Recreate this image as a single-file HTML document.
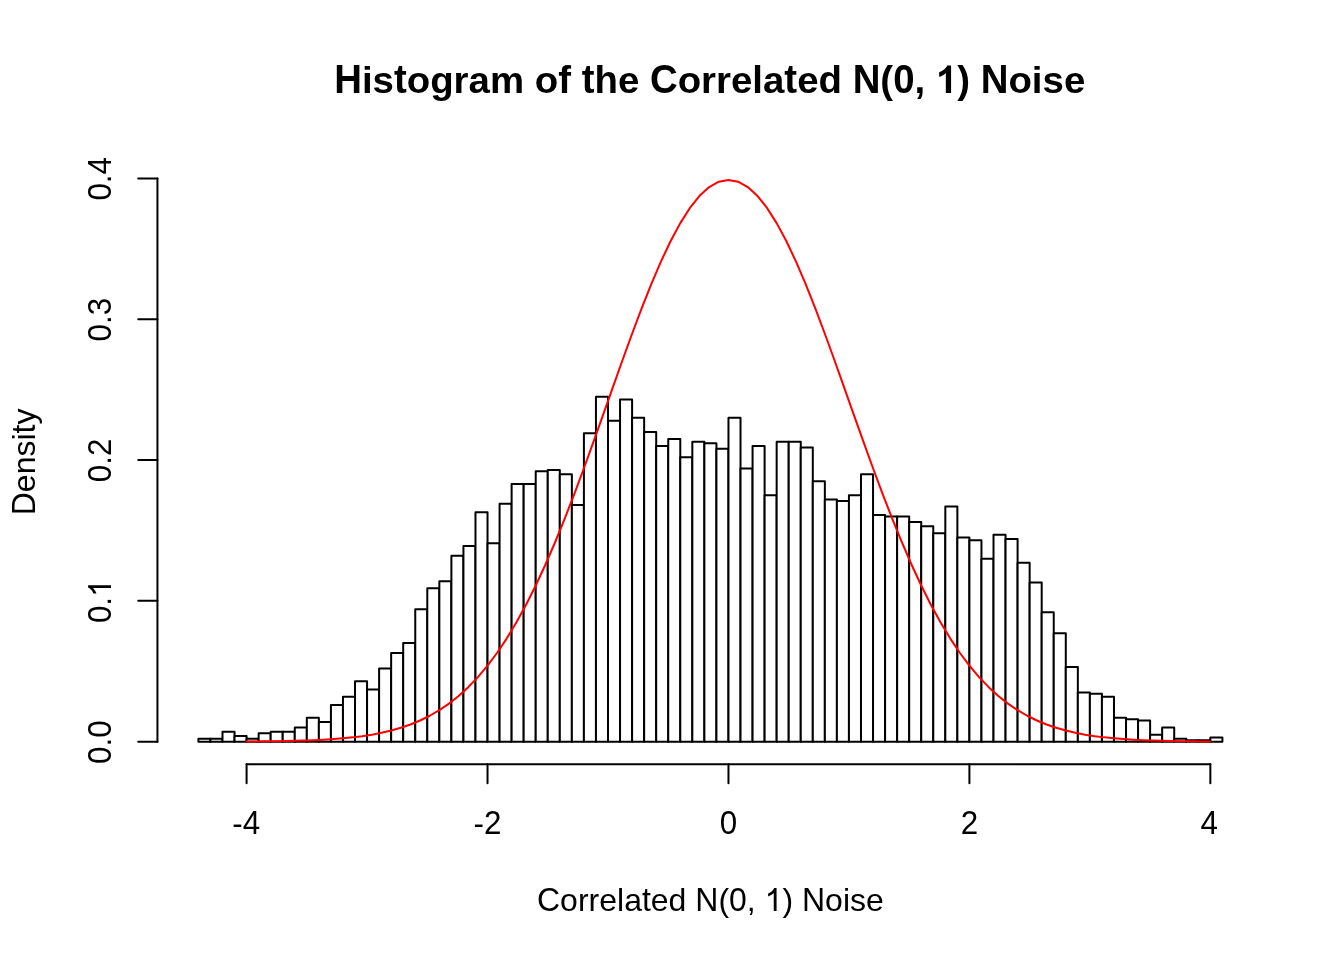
<!DOCTYPE html>
<html><head><meta charset="utf-8"><title>Histogram</title>
<style>html,body{margin:0;padding:0;background:#fff;}body{width:1344px;height:960px;overflow:hidden;font-family:"Liberation Sans",sans-serif;}svg{display:block;will-change:transform;}</style>
</head><body>
<svg width="1344" height="960" viewBox="0 0 1344 960">
<rect width="1344" height="960" fill="#fff"/>
<g fill="#fff" stroke="#000" stroke-width="2" stroke-linejoin="round" stroke-linecap="round"><rect x="198.40" y="738.87" width="12.05" height="2.82"/><rect x="210.45" y="738.87" width="12.05" height="2.82"/><rect x="222.49" y="731.83" width="12.05" height="9.86"/><rect x="234.54" y="736.06" width="12.05" height="5.63"/><rect x="246.59" y="738.87" width="12.05" height="2.82"/><rect x="258.64" y="733.24" width="12.05" height="8.45"/><rect x="270.68" y="731.83" width="12.05" height="9.86"/><rect x="282.73" y="731.83" width="12.05" height="9.86"/><rect x="294.78" y="727.61" width="12.05" height="14.08"/><rect x="306.82" y="717.75" width="12.05" height="23.94"/><rect x="318.87" y="721.97" width="12.05" height="19.71"/><rect x="330.92" y="705.08" width="12.05" height="36.61"/><rect x="342.96" y="696.63" width="12.05" height="45.06"/><rect x="355.01" y="681.14" width="12.05" height="60.55"/><rect x="367.06" y="689.59" width="12.05" height="52.10"/><rect x="379.11" y="668.46" width="12.05" height="73.22"/><rect x="391.15" y="652.97" width="12.05" height="88.71"/><rect x="403.20" y="643.12" width="12.05" height="98.57"/><rect x="415.25" y="609.32" width="12.05" height="132.37"/><rect x="427.29" y="588.20" width="12.05" height="153.49"/><rect x="439.34" y="581.16" width="12.05" height="160.53"/><rect x="451.39" y="555.81" width="12.05" height="185.88"/><rect x="463.44" y="545.95" width="12.05" height="195.74"/><rect x="475.48" y="512.16" width="12.05" height="229.53"/><rect x="487.53" y="543.14" width="12.05" height="198.55"/><rect x="499.58" y="503.71" width="12.05" height="237.98"/><rect x="511.62" y="483.99" width="12.05" height="257.69"/><rect x="523.67" y="483.99" width="12.05" height="257.69"/><rect x="535.72" y="471.32" width="12.05" height="270.37"/><rect x="547.76" y="469.91" width="12.05" height="271.78"/><rect x="559.81" y="474.14" width="12.05" height="267.55"/><rect x="571.86" y="505.12" width="12.05" height="236.57"/><rect x="583.91" y="433.30" width="12.05" height="308.39"/><rect x="595.95" y="396.69" width="12.05" height="345.00"/><rect x="608.00" y="420.63" width="12.05" height="321.06"/><rect x="620.05" y="399.50" width="12.05" height="342.18"/><rect x="632.09" y="417.81" width="12.05" height="323.88"/><rect x="644.14" y="431.89" width="12.05" height="309.80"/><rect x="656.19" y="445.97" width="12.05" height="295.72"/><rect x="668.24" y="438.93" width="12.05" height="302.76"/><rect x="680.28" y="457.24" width="12.05" height="284.45"/><rect x="692.33" y="441.75" width="12.05" height="299.94"/><rect x="704.38" y="443.16" width="12.05" height="298.53"/><rect x="716.42" y="448.79" width="12.05" height="292.90"/><rect x="728.47" y="417.81" width="12.05" height="323.88"/><rect x="740.52" y="468.50" width="12.05" height="273.18"/><rect x="752.56" y="445.97" width="12.05" height="295.72"/><rect x="764.61" y="495.26" width="12.05" height="246.43"/><rect x="776.66" y="441.75" width="12.05" height="299.94"/><rect x="788.71" y="441.75" width="12.05" height="299.94"/><rect x="800.75" y="447.38" width="12.05" height="294.31"/><rect x="812.80" y="481.18" width="12.05" height="260.51"/><rect x="824.85" y="499.48" width="12.05" height="242.20"/><rect x="836.89" y="500.89" width="12.05" height="240.80"/><rect x="848.94" y="495.26" width="12.05" height="246.43"/><rect x="860.99" y="474.14" width="12.05" height="267.55"/><rect x="873.04" y="514.97" width="12.05" height="226.72"/><rect x="885.08" y="516.38" width="12.05" height="225.31"/><rect x="897.13" y="516.38" width="12.05" height="225.31"/><rect x="909.18" y="522.01" width="12.05" height="219.67"/><rect x="921.22" y="526.24" width="12.05" height="215.45"/><rect x="933.27" y="533.28" width="12.05" height="208.41"/><rect x="945.32" y="506.52" width="12.05" height="235.16"/><rect x="957.36" y="537.50" width="12.05" height="204.18"/><rect x="969.41" y="540.32" width="12.05" height="201.37"/><rect x="981.46" y="558.63" width="12.05" height="183.06"/><rect x="993.51" y="534.69" width="12.05" height="207.00"/><rect x="1005.55" y="538.91" width="12.05" height="202.78"/><rect x="1017.60" y="562.85" width="12.05" height="178.84"/><rect x="1029.65" y="582.57" width="12.05" height="159.12"/><rect x="1041.69" y="612.14" width="12.05" height="129.55"/><rect x="1053.74" y="633.26" width="12.05" height="108.43"/><rect x="1065.79" y="667.06" width="12.05" height="74.63"/><rect x="1077.84" y="692.40" width="12.05" height="49.29"/><rect x="1089.88" y="693.81" width="12.05" height="47.88"/><rect x="1101.93" y="696.63" width="12.05" height="45.06"/><rect x="1113.98" y="717.75" width="12.05" height="23.94"/><rect x="1126.02" y="719.16" width="12.05" height="22.53"/><rect x="1138.07" y="720.57" width="12.05" height="21.12"/><rect x="1150.12" y="734.65" width="12.05" height="7.04"/><rect x="1162.16" y="727.61" width="12.05" height="14.08"/><rect x="1174.21" y="738.87" width="12.05" height="2.82"/><rect x="1186.26" y="740.28" width="12.05" height="1.41"/><rect x="1198.31" y="740.28" width="12.05" height="1.41"/><rect x="1210.35" y="737.46" width="12.05" height="4.22"/></g>
<polyline points="246.59,741.50 256.23,741.43 265.86,741.34 275.50,741.21 285.14,741.04 294.78,740.83 304.41,740.54 314.05,740.18 323.69,739.70 333.33,739.10 342.96,738.33 352.60,737.37 362.24,736.16 371.88,734.66 381.52,732.81 391.15,730.54 400.79,727.79 410.43,724.46 420.07,720.48 429.70,715.75 439.34,710.15 448.98,703.60 458.62,695.98 468.25,687.18 477.89,677.11 487.53,665.66 497.17,652.75 506.80,638.32 516.44,622.31 526.08,604.70 535.72,585.49 545.36,564.73 554.99,542.49 564.63,518.88 574.27,494.07 583.91,468.24 593.54,441.65 603.18,414.58 612.82,387.33 622.46,360.27 632.09,333.75 641.73,308.18 651.37,283.95 661.01,261.44 670.64,241.04 680.28,223.10 689.92,207.95 699.56,195.86 709.20,187.06 718.83,181.71 728.47,179.91 738.11,181.71 747.75,187.06 757.38,195.86 767.02,207.95 776.66,223.10 786.30,241.04 795.93,261.44 805.57,283.95 815.21,308.18 824.85,333.75 834.48,360.27 844.12,387.33 853.76,414.58 863.40,441.65 873.04,468.24 882.67,494.07 892.31,518.88 901.95,542.49 911.59,564.73 921.22,585.49 930.86,604.70 940.50,622.31 950.14,638.32 959.77,652.75 969.41,665.66 979.05,677.11 988.69,687.18 998.32,695.98 1007.96,703.60 1017.60,710.15 1027.24,715.75 1036.88,720.48 1046.51,724.46 1056.15,727.79 1065.79,730.54 1075.43,732.81 1085.06,734.66 1094.70,736.16 1104.34,737.37 1113.98,738.33 1123.61,739.10 1133.25,739.70 1142.89,740.18 1152.53,740.54 1162.16,740.83 1171.80,741.04 1181.44,741.21 1191.08,741.34 1200.72,741.43 1210.35,741.50" fill="none" stroke="#f00" stroke-width="2" stroke-linejoin="round" stroke-linecap="round"/>
<g stroke="#000" stroke-width="2" stroke-linecap="round"><line x1="157.44" y1="741.69" x2="157.44" y2="178.42"/><line x1="157.44" y1="741.69" x2="138.24" y2="741.69"/><line x1="157.44" y1="600.87" x2="138.24" y2="600.87"/><line x1="157.44" y1="460.06" x2="138.24" y2="460.06"/><line x1="157.44" y1="319.24" x2="138.24" y2="319.24"/><line x1="157.44" y1="178.42" x2="138.24" y2="178.42"/><line x1="246.59" y1="764.16" x2="1210.35" y2="764.16"/><line x1="246.59" y1="764.16" x2="246.59" y2="783.36"/><line x1="487.53" y1="764.16" x2="487.53" y2="783.36"/><line x1="728.47" y1="764.16" x2="728.47" y2="783.36"/><line x1="969.41" y1="764.16" x2="969.41" y2="783.36"/><line x1="1210.35" y1="764.16" x2="1210.35" y2="783.36"/></g>
<g font-family="Liberation Sans, sans-serif" font-size="32" fill="#000">
<text transform="translate(111.00,742.09) rotate(-90) scale(0.98,1) translate(-22.242,0) scale(1,1.0405)">0</text><text transform="translate(111.00,742.09) rotate(-90) scale(0.98,1) translate(-4.445,0) scale(1,1.0000)">.</text><text transform="translate(111.00,742.09) rotate(-90) scale(0.98,1) translate(4.445,0) scale(1,1.0405)">0</text>
<text transform="translate(111.00,601.27) rotate(-90) scale(0.98,1) translate(-22.242,0) scale(1,1.0405)">0</text><text transform="translate(111.00,601.27) rotate(-90) scale(0.98,1) translate(-4.445,0) scale(1,1.0000)">.</text><path transform="translate(111.00,601.27) rotate(-90) scale(0.98,1) translate(4.445,0) scale(0.015625,-0.015625)" d="M763 0L583 0L583 1147Q518 1085 414.5 1024Q311 963 223 930L223 1125Q374 1190 465 1266Q556 1342 611 1466L763 1466Z"/>
<text transform="translate(111.00,460.46) rotate(-90) scale(0.98,1) translate(-22.242,0) scale(1,1.0405)">0</text><text transform="translate(111.00,460.46) rotate(-90) scale(0.98,1) translate(-4.445,0) scale(1,1.0000)">.</text><text transform="translate(111.00,460.46) rotate(-90) scale(0.98,1) translate(4.445,0) scale(1,1.0405)">2</text>
<text transform="translate(111.00,319.64) rotate(-90) scale(0.98,1) translate(-22.242,0) scale(1,1.0405)">0</text><text transform="translate(111.00,319.64) rotate(-90) scale(0.98,1) translate(-4.445,0) scale(1,1.0000)">.</text><text transform="translate(111.00,319.64) rotate(-90) scale(0.98,1) translate(4.445,0) scale(1,1.0405)">3</text>
<text transform="translate(111.00,178.82) rotate(-90) scale(0.98,1) translate(-22.242,0) scale(1,1.0405)">0</text><text transform="translate(111.00,178.82) rotate(-90) scale(0.98,1) translate(-4.445,0) scale(1,1.0000)">.</text><text transform="translate(111.00,178.82) rotate(-90) scale(0.98,1) translate(4.445,0) scale(1,1.0405)">4</text>
<text transform="translate(246.29,834.00) scale(0.98,1) translate(-14.227,0) scale(1,1.0000)">-</text><text transform="translate(246.29,834.00) scale(0.98,1) translate(-3.570,0) scale(1,1.0405)">4</text>
<text transform="translate(487.53,834.00) scale(0.98,1) translate(-14.227,0) scale(1,1.0000)">-</text><text transform="translate(487.53,834.00) scale(0.98,1) translate(-3.570,0) scale(1,1.0405)">2</text>
<text transform="translate(728.47,834.00) scale(0.98,1) translate(-8.898,0) scale(1,1.0405)">0</text>
<text transform="translate(969.41,834.00) scale(0.98,1) translate(-8.898,0) scale(1,1.0405)">2</text>
<text transform="translate(1209.15,834.00) scale(0.98,1) translate(-8.898,0) scale(1,1.0405)">4</text>
<text transform="translate(710.40,911.00) translate(-173.398,0) scale(1,1.0405)">C</text><text transform="translate(710.40,911.00) translate(-150.289,0) scale(1,0.9815)">o</text><text transform="translate(710.40,911.00) translate(-132.492,0) scale(1,0.9815)">r</text><text transform="translate(710.40,911.00) translate(-121.836,0) scale(1,0.9815)">r</text><text transform="translate(710.40,911.00) translate(-111.180,0) scale(1,0.9815)">e</text><text transform="translate(710.40,911.00) translate(-93.383,0) scale(1,0.9879)">l</text><text transform="translate(710.40,911.00) translate(-86.273,0) scale(1,0.9815)">a</text><text transform="translate(710.40,911.00) translate(-68.477,0) scale(1,1.0650)">t</text><text transform="translate(710.40,911.00) translate(-59.586,0) scale(1,0.9815)">e</text><text transform="translate(710.40,911.00) translate(-41.789,0) scale(1,0.9879)">d</text><text transform="translate(710.40,911.00) translate(-15.102,0) scale(1,1.0405)">N</text><text transform="translate(710.40,911.00) translate(8.008,0) scale(1,0.9900)">(</text><text transform="translate(710.40,911.00) translate(18.664,0) scale(1,1.0405)">0</text><text transform="translate(710.40,911.00) translate(36.461,0) scale(1,1.0000)">,</text><path transform="translate(710.40,911.00) translate(54.242,0) scale(0.015625,-0.015625)" d="M763 0L583 0L583 1147Q518 1085 414.5 1024Q311 963 223 930L223 1125Q374 1190 465 1266Q556 1342 611 1466L763 1466Z"/><text transform="translate(710.40,911.00) translate(72.039,0) scale(1,0.9900)">)</text><text transform="translate(710.40,911.00) translate(91.586,0) scale(1,1.0405)">N</text><text transform="translate(710.40,911.00) translate(114.695,0) scale(1,0.9815)">o</text><text transform="translate(710.40,911.00) translate(132.492,0) scale(1,0.9850)">i</text><text transform="translate(710.40,911.00) translate(139.602,0) scale(1,0.9815)">s</text><text transform="translate(710.40,911.00) translate(155.602,0) scale(1,0.9815)">e</text>
<text transform="translate(34.50,461.90) rotate(-90) translate(-53.352,0) scale(1,1.0405)">D</text><text transform="translate(34.50,461.90) rotate(-90) translate(-30.242,0) scale(1,0.9815)">e</text><text transform="translate(34.50,461.90) rotate(-90) translate(-12.445,0) scale(1,0.9815)">n</text><text transform="translate(34.50,461.90) rotate(-90) translate(5.352,0) scale(1,0.9815)">s</text><text transform="translate(34.50,461.90) rotate(-90) translate(21.352,0) scale(1,0.9850)">i</text><text transform="translate(34.50,461.90) rotate(-90) translate(28.461,0) scale(1,1.0650)">t</text><text transform="translate(34.50,461.90) rotate(-90) translate(37.352,0) scale(1,0.9815)">y</text>
</g>
<g font-family="Liberation Sans, sans-serif" font-size="38.4" font-weight="bold" fill="#000">
<text transform="translate(709.70,92.90) translate(-375.534,0) scale(1,1.0405)">H</text><text transform="translate(709.70,92.90) translate(-347.803,0) scale(1,0.9850)">i</text><text transform="translate(709.70,92.90) translate(-337.134,0) scale(1,0.9815)">s</text><text transform="translate(709.70,92.90) translate(-315.778,0) scale(1,1.0650)">t</text><text transform="translate(709.70,92.90) translate(-302.991,0) scale(1,0.9815)">o</text><text transform="translate(709.70,92.90) translate(-279.534,0) scale(1,0.9815)">g</text><text transform="translate(709.70,92.90) translate(-256.078,0) scale(1,0.9815)">r</text><text transform="translate(709.70,92.90) translate(-241.134,0) scale(1,0.9815)">a</text><text transform="translate(709.70,92.90) translate(-219.778,0) scale(1,0.9815)">m</text><text transform="translate(709.70,92.90) translate(-174.966,0) scale(1,0.9815)">o</text><text transform="translate(709.70,92.90) translate(-151.509,0) scale(1,0.9879)">f</text><text transform="translate(709.70,92.90) translate(-128.053,0) scale(1,1.0650)">t</text><text transform="translate(709.70,92.90) translate(-115.266,0) scale(1,0.9879)">h</text><text transform="translate(709.70,92.90) translate(-91.809,0) scale(1,0.9815)">e</text><text transform="translate(709.70,92.90) translate(-59.784,0) scale(1,1.0405)">C</text><text transform="translate(709.70,92.90) translate(-32.053,0) scale(1,0.9815)">o</text><text transform="translate(709.70,92.90) translate(-8.597,0) scale(1,0.9815)">r</text><text transform="translate(709.70,92.90) translate(6.347,0) scale(1,0.9815)">r</text><text transform="translate(709.70,92.90) translate(21.291,0) scale(1,0.9815)">e</text><text transform="translate(709.70,92.90) translate(42.647,0) scale(1,0.9879)">l</text><text transform="translate(709.70,92.90) translate(53.316,0) scale(1,0.9815)">a</text><text transform="translate(709.70,92.90) translate(74.672,0) scale(1,1.0650)">t</text><text transform="translate(709.70,92.90) translate(87.459,0) scale(1,0.9815)">e</text><text transform="translate(709.70,92.90) translate(108.816,0) scale(1,0.9879)">d</text><text transform="translate(709.70,92.90) translate(142.941,0) scale(1,1.0405)">N</text><text transform="translate(709.70,92.90) translate(170.672,0) scale(1,0.9900)">(</text><text transform="translate(709.70,92.90) translate(183.459,0) scale(1,1.0405)">0</text><text transform="translate(709.70,92.90) translate(204.816,0) scale(1,1.0000)">,</text><path transform="translate(709.70,92.90) translate(226.153,0) scale(0.018750,-0.018750)" d="M812 0L532 0L532 1065C420 960 290 880 177 857L177 1100C330 1160 540 1300 602 1466L812 1466Z"/><text transform="translate(709.70,92.90) translate(247.509,0) scale(1,0.9900)">)</text><text transform="translate(709.70,92.90) translate(270.966,0) scale(1,1.0405)">N</text><text transform="translate(709.70,92.90) translate(298.697,0) scale(1,0.9815)">o</text><text transform="translate(709.70,92.90) translate(322.153,0) scale(1,0.9850)">i</text><text transform="translate(709.70,92.90) translate(332.822,0) scale(1,0.9815)">s</text><text transform="translate(709.70,92.90) translate(354.178,0) scale(1,0.9815)">e</text>
</g>
</svg>
</body></html>
